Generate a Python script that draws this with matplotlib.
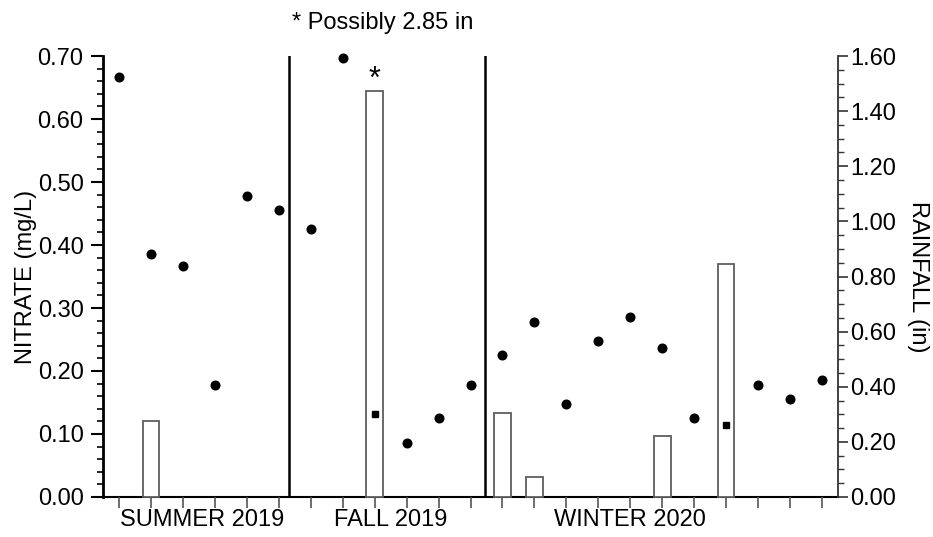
import matplotlib
matplotlib.use("Agg")
import matplotlib.pyplot as plt
from matplotlib.ticker import MultipleLocator, FormatStrFormatter

plt.rcParams['font.family'] = ['Liberation Sans', 'DejaVu Sans']

# Sampling events (one per tick), grouped by season
sample_index = list(range(23))
nitrate = [0.667, 0.386, 0.367, 0.177, 0.477, 0.456, 0.426, 0.697, 0.131,
           0.086, 0.126, 0.177, 0.226, 0.277, 0.147, 0.247, 0.286, 0.237,
           0.126, 0.115, 0.177, 0.156, 0.186]
# samples flagged with a square marker
flagged = [8, 19]

rain_index = [1, 8, 12, 13, 17, 19]
rainfall = [0.275, 1.474, 0.304, 0.074, 0.222, 0.844]

season_names = ["SUMMER 2019", "FALL 2019", "WINTER 2020"]
season_centers = [2.6, 8.5, 16.0]
season_breaks = [5.32, 11.44]

FS = 17

fig = plt.figure(figsize=(9.33, 5.37), dpi=100)
ax1 = fig.add_axes([0.1104, 0.0745, 0.7878, 0.8212])
ax2 = ax1.twinx()

# Rainfall bars on the secondary axis, drawn behind the nitrate points
ax2.bar(rain_index, rainfall, width=0.52, facecolor="white",
        edgecolor="#5e5e5e", linewidth=1.3, zorder=3, clip_on=False)
ax2.set_ylim(0, 1.60)
ax2.yaxis.set_major_locator(MultipleLocator(0.20))
ax2.yaxis.set_minor_locator(MultipleLocator(0.05))
ax2.yaxis.set_major_formatter(FormatStrFormatter('%.2f'))
ax2.tick_params(axis='y', which='major', length=7, width=1.2, colors="#333333",
                labelsize=FS, labelcolor="black", pad=2)
ax2.tick_params(axis='y', which='minor', length=4, width=1.0, colors="#333333")
ax2.set_ylabel("RAINFALL (in)", fontsize=FS, rotation=270)
ax2.yaxis.label.set_va('center')
ax2.yaxis.label.set_ha('center')
ax2.yaxis.set_label_coords(1.1088, 0.5)
for s in ["top", "left"]:
    ax2.spines[s].set_visible(False)
ax2.spines["right"].set_color("#333333")
ax2.spines["right"].set_linewidth(1.3)
ax2.spines["bottom"].set_linewidth(1.5)
ax2.spines["bottom"].set_zorder(2)

ax1.set_zorder(ax2.get_zorder() + 1)
ax1.patch.set_visible(False)

circ_x = [i for i in sample_index if i not in flagged]
circ_y = [nitrate[i] for i in circ_x]
sq_x = flagged
sq_y = [nitrate[i] for i in flagged]
ax1.plot(circ_x, circ_y, 'o', color='black', markersize=6.2, clip_on=False, zorder=5)
ax1.plot(sq_x, sq_y, 's', color='black', markersize=4.3, clip_on=False, zorder=5)

for xb in season_breaks:
    ax1.axvline(xb, color='black', linewidth=1.8, zorder=4)

ax1.set_xlim(-0.5, 22.5)
ax1.set_ylim(0, 0.70)
ax1.yaxis.set_major_locator(MultipleLocator(0.10))
ax1.yaxis.set_minor_locator(MultipleLocator(0.02))
ax1.yaxis.set_major_formatter(FormatStrFormatter('%.2f'))
ax1.tick_params(axis='y', which='major', length=9, width=1.5, labelsize=FS, pad=5)
ax1.tick_params(axis='y', which='minor', length=4, width=1.2)
ax1.set_xticks(sample_index)
ax1.set_xticklabels([])
ax1.tick_params(axis='x', which='major', length=8, width=1.2, colors="#555555")
ax2.set_xlim(-0.5, 22.5)
ax1.set_ylabel("NITRATE (mg/L)", fontsize=FS)
ax1.yaxis.label.set_va('center')
ax1.yaxis.label.set_ha('center')
ax1.yaxis.set_label_coords(-0.1048, 0.5)
for s in ["top", "right", "bottom"]:
    ax1.spines[s].set_visible(False)
ax1.spines["left"].set_linewidth(2.0)

for name, cx in zip(season_names, season_centers):
    ax1.text(cx, -0.0365, name, ha='center', va='center', fontsize=FS)

# Note on the largest rainfall bar
big = rainfall.index(max(rainfall))
ax2.text(rain_index[big], rainfall[big] + 0.04, "*", ha='center', va='center',
         fontsize=22)
ax1.text(8.25, 0.7524, "* Possibly 2.85 in", ha='center', va='center',
         fontsize=FS, clip_on=False)

fig.savefig("out.png", dpi=100)
